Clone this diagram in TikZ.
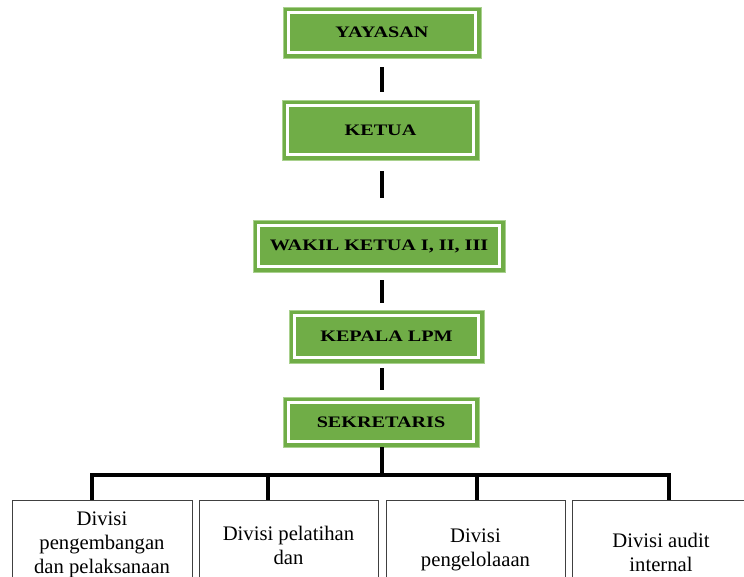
\documentclass[tikz,border=0pt]{standalone}
\usepackage{fontspec}
\setmainfont{Liberation Serif}
\newfontfamily\boxfont[FakeStretch=1.26]{Liberation Serif}
\usetikzlibrary{positioning}
\definecolor{boxgreen}{HTML}{70AD47}
\definecolor{boxedge}{HTML}{A9D18E}
\newcommand\pxu{0.75pt}
\tikzset{
  greenbox/.style={draw=boxedge, line width=0.6pt, fill=boxgreen, inner sep=0pt,
    font=\boxfont\fontsize{12}{14}\selectfont\bfseries,
    path picture={\draw[white, line width=1.6pt]
      ([shift={(5.5*\pxu,-5.5*\pxu)}]path picture bounding box.north west) rectangle
      ([shift={(-5.5*\pxu,5.5*\pxu)}]path picture bounding box.south east);}},
  divbox/.style={draw=black!75, line width=0.7pt, anchor=north, inner sep=0pt},
  divtext/.style={align=center, inner sep=0pt, anchor=north,
    font=\fontsize{15.5}{17.8}\selectfont},
  conn/.style={line width=2.3pt}
}
\begin{document}
\begin{tikzpicture}[x=0.75pt, y=-0.75pt]
\path[use as bounding box, clip] (0,0) rectangle (744,577);
% Kotak hijau
\node[greenbox, minimum width=198*\pxu, minimum height=51*\pxu] (yay) at (382,32.5) {YAYASAN};
\node[greenbox, minimum width=197*\pxu, minimum height=60*\pxu] (ket) at (380.5,130) {KETUA};
\node[greenbox, minimum width=252*\pxu, minimum height=52*\pxu] (wak) at (379,246) {WAKIL KETUA I, II, III};
\node[greenbox, minimum width=195*\pxu, minimum height=53*\pxu] (kep) at (386.5,336.5) {KEPALA LPM};
\node[greenbox, minimum width=196*\pxu, minimum height=50*\pxu] (sek) at (381,422) {SEKRETARIS};
% Garis antar kotak
\coordinate (spine) at (382,0);
\draw[conn, shorten <=9*\pxu, shorten >=8*\pxu] (yay.south -| spine) -- (ket.north -| spine);
\draw[conn, shorten <=11*\pxu, shorten >=22*\pxu] (ket.south -| spine) -- (wak.north -| spine);
\draw[conn, shorten <=8*\pxu, shorten >=7*\pxu] (wak.south -| spine) -- (kep.north -| spine);
\draw[conn, shorten <=5*\pxu, shorten >=7*\pxu] (kep.south -| spine) -- (sek.north -| spine);
% Divisi
\node[divbox, minimum width=180*\pxu, minimum height=140*\pxu] (d1) at (102,500) {};
\node[divbox, minimum width=179*\pxu, minimum height=140*\pxu] (d2) at (288.5,500) {};
\node[divbox, minimum width=179*\pxu, minimum height=140*\pxu] (d3) at (475.5,500) {};
\node[divbox, minimum width=178*\pxu, minimum height=140*\pxu] (d4) at (661,500) {};
\node[divtext, below=12*\pxu of d1.north] (t1) {Divisi\\pengembangan\\dan pelaksanaan};
\node[divtext, below=26*\pxu of d2.north] (t2) {Divisi pelatihan\\dan};
\node[divtext, below=29*\pxu of d3.north] (t3) {Divisi\\pengelolaaan};
\node[divtext, below=33*\pxu of d4.north] (t4) {Divisi audit\\internal};
% Garis ke divisi
\coordinate (bus) at (382,475);
\coordinate (b1) at (92,475);
\coordinate (b2) at (268,475);
\coordinate (b3) at (477,475);
\coordinate (b4) at (669,475);
\draw[conn] (sek.south -| spine) -- (bus);
\draw[conn] (b1 |- d1.north) -- (b1) -- (b4) -- (b4 |- d4.north);
\draw[conn] (b2) -- (b2 |- d2.north);
\draw[conn] (b3) -- (b3 |- d3.north);
\end{tikzpicture}
\end{document}
